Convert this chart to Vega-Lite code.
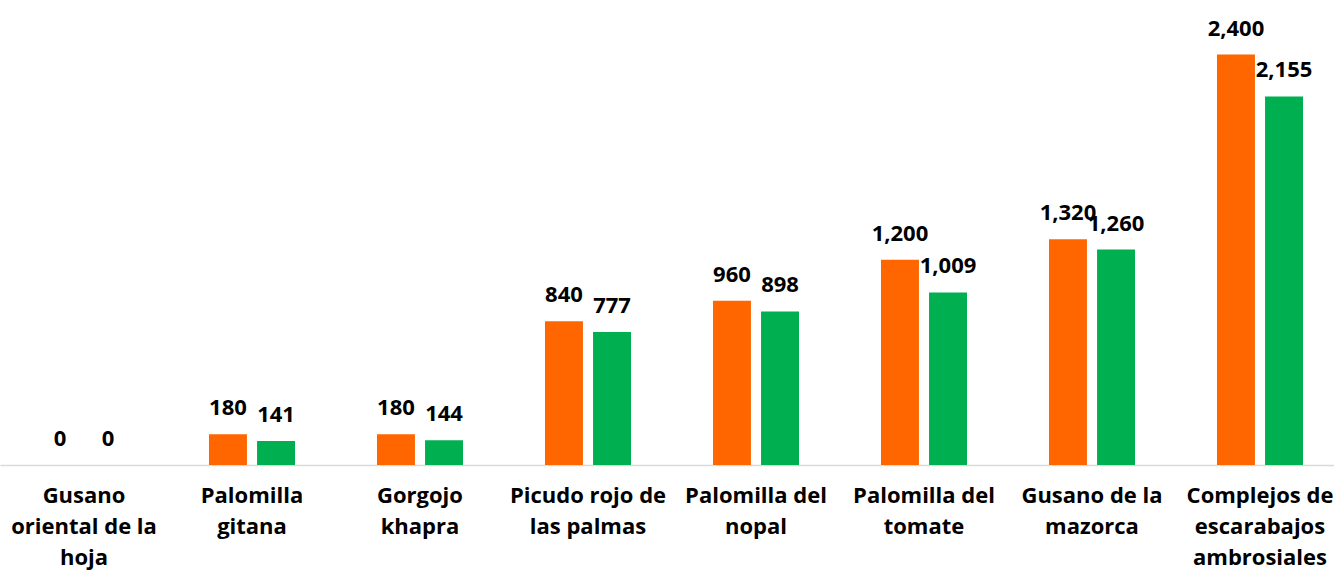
{
  "$schema": "https://vega.github.io/schema/vega-lite/v6.json",
  "width": 1344,
  "height": 465,
  "autosize": {"type": "none"},
  "padding": {"left": 0, "top": 0, "right": 0, "bottom": 109},
  "config": {"view": {"stroke": null}, "font": "Open Sans"},
  "data": {
    "values": [
      {"plaga": "Gusano|oriental de la|hoja", "serie": "A", "valor": 0},
      {"plaga": "Gusano|oriental de la|hoja", "serie": "B", "valor": 0},
      {"plaga": "Palomilla|gitana", "serie": "A", "valor": 180},
      {"plaga": "Palomilla|gitana", "serie": "B", "valor": 141},
      {"plaga": "Gorgojo|khapra", "serie": "A", "valor": 180},
      {"plaga": "Gorgojo|khapra", "serie": "B", "valor": 144},
      {"plaga": "Picudo rojo de|las palmas", "serie": "A", "valor": 840},
      {"plaga": "Picudo rojo de|las palmas", "serie": "B", "valor": 777},
      {"plaga": "Palomilla del|nopal", "serie": "A", "valor": 960},
      {"plaga": "Palomilla del|nopal", "serie": "B", "valor": 898},
      {"plaga": "Palomilla del|tomate", "serie": "A", "valor": 1200},
      {"plaga": "Palomilla del|tomate", "serie": "B", "valor": 1009},
      {"plaga": "Gusano de la|mazorca", "serie": "A", "valor": 1320},
      {"plaga": "Gusano de la|mazorca", "serie": "B", "valor": 1260},
      {"plaga": "Complejos de|escarabajos|ambrosiales", "serie": "A", "valor": 2400},
      {"plaga": "Complejos de|escarabajos|ambrosiales", "serie": "B", "valor": 2155}
    ]
  },
  "encoding": {
    "x": {
      "field": "plaga",
      "type": "nominal",
      "sort": null,
      "title": null,
      "scale": {"paddingInner": 0.488, "paddingOuter": 0.244},
      "axis": {
        "labelExpr": "split(datum.label, '|')",
        "labelAngle": 0,
        "labelFont": "Open Sans",
        "labelFontSize": 22,
        "labelFontWeight": "bold",
        "labelColor": "#000000",
        "labelLineHeight": 31,
        "labelBaseline": "top",
        "labelPadding": 20,
        "labelLimit": 400,
        "labelOverlap": false,
        "labelBound": false,
        "ticks": false,
        "domainColor": "#d9d9d9",
        "domainWidth": 1.5
      }
    },
    "xOffset": {"field": "serie", "type": "nominal", "scale": {"paddingInner": 0.21}},
    "y": {
      "field": "valor",
      "type": "quantitative",
      "scale": {"domain": [0, 2719], "nice": false},
      "axis": null
    }
  },
  "layer": [
    {
      "mark": {"type": "bar"},
      "encoding": {
        "color": {
          "field": "serie",
          "type": "nominal",
          "scale": {"domain": ["A", "B"], "range": ["#FF6600", "#00B050"]},
          "legend": null
        }
      }
    },
    {
      "mark": {
        "type": "text",
        "dy": -26,
        "baseline": "middle",
        "align": "center",
        "font": "Open Sans",
        "fontSize": 22,
        "fontWeight": "bold",
        "color": "#000000"
      },
      "encoding": {
        "text": {"field": "valor", "type": "quantitative", "format": ",.0f"}
      }
    }
  ]
}
